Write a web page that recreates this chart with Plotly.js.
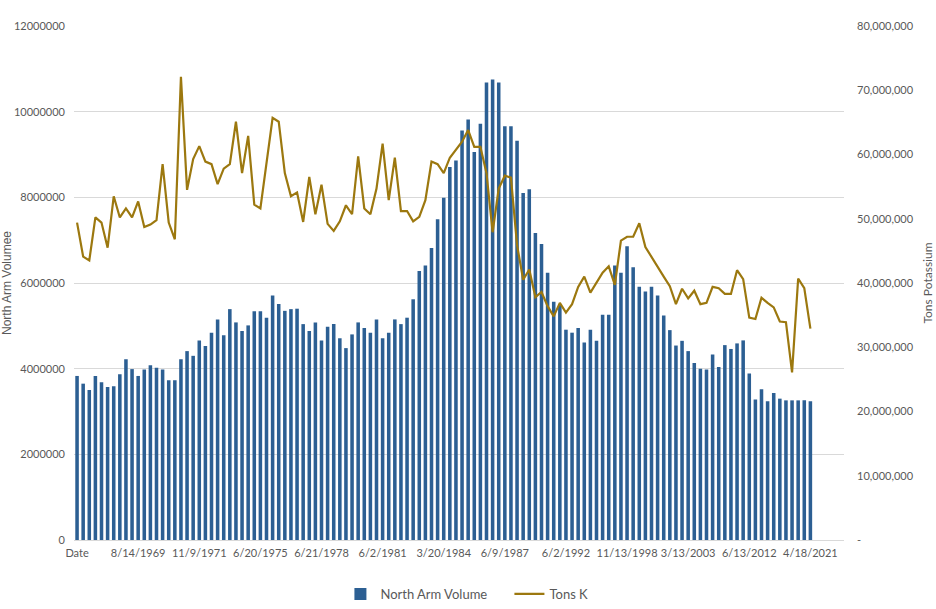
<!DOCTYPE html>
<html>
<head>
<meta charset="utf-8">
<script src="https://cdn.plot.ly/plotly-3.0.1.min.js"></script>
<style>
  html, body { margin: 0; padding: 0; background: #fff; }
  #plot { width: 936px; height: 609px; }
</style>
</head>
<body>
<div id="plot"></div>
<script>
// Category axis labels (every 10th date row is labelled)
var tickLabels = ["Date", "8/14/1969", "11/9/1971", "6/20/1975", "6/21/1978", "6/2/1981",
  "3/20/1984", "6/9/1987", "6/2/1992", "11/13/1998", "3/13/2003", "6/13/2012", "4/18/2021"];

// North Arm Volume (left axis)
var volume = [
  3830000, 3650000, 3500000, 3830000, 3680000, 3570000, 3590000, 3870000, 4220000, 3990000,
  3830000, 3980000, 4080000, 4020000, 3980000, 3730000, 3730000, 4220000, 4410000, 4300000,
  4660000, 4530000, 4840000, 5150000, 4780000, 5390000, 5080000, 4880000, 5010000, 5340000,
  5340000, 5190000, 5710000, 5510000, 5350000, 5390000, 5400000, 5040000, 4880000, 5080000,
  4660000, 4980000, 5040000, 4710000, 4480000, 4800000, 5080000, 4950000, 4840000, 5150000,
  4710000, 4840000, 5150000, 5040000, 5190000, 5620000, 6280000, 6410000, 6820000, 7490000,
  7990000, 8710000, 8860000, 9560000, 9820000, 9060000, 9720000, 10680000, 10750000, 10680000,
  9660000, 9660000, 9320000, 8100000, 8190000, 7170000, 6910000, 6240000, 5560000, 5500000,
  4910000, 4840000, 4950000, 4610000, 4910000, 4650000, 5260000, 5260000, 6410000, 6240000,
  6860000, 6370000, 5910000, 5800000, 5910000, 5710000, 5240000, 4900000, 4540000, 4650000,
  4410000, 4130000, 4000000, 3980000, 4330000, 4040000, 4550000, 4460000, 4590000, 4660000,
  3890000, 3280000, 3520000, 3240000, 3430000, 3300000, 3260000, 3260000, 3260000, 3260000,
  3240000
];

// Tons K (right axis)
var tonsK = [
  49400000, 44100000, 43500000, 50200000, 49400000, 45500000, 53500000, 50200000, 51600000, 50200000,
  52700000, 48700000, 49100000, 49800000, 58500000, 49400000, 46800000, 72100000, 54500000, 59300000,
  61300000, 58900000, 58500000, 55400000, 57800000, 58500000, 65100000, 57100000, 62900000, 52200000,
  51600000, 58600000, 65700000, 65100000, 57100000, 53500000, 54100000, 49500000, 56500000, 50700000,
  55300000, 49200000, 48100000, 49600000, 52100000, 50700000, 59700000, 51600000, 50700000, 54700000,
  61700000, 52900000, 59500000, 51200000, 51200000, 49600000, 50300000, 52900000, 58900000, 58500000,
  57100000, 59500000, 60700000, 62000000, 63800000, 61200000, 61200000, 57100000, 47900000, 54700000,
  56700000, 56400000, 45900000, 40500000, 42100000, 37800000, 38600000, 36400000, 34800000, 36900000,
  35400000, 36700000, 39400000, 41000000, 38500000, 40000000, 41600000, 42600000, 39700000, 46600000,
  47200000, 47200000, 49300000, 45600000, 44000000, 42400000, 41000000, 39500000, 36700000, 39100000,
  37600000, 38800000, 36700000, 36900000, 39400000, 39200000, 38300000, 38300000, 42000000, 40600000,
  34600000, 34400000, 37700000, 36900000, 36200000, 34000000, 33900000, 26100000, 40700000, 39200000,
  32900000
];

var xIdx = volume.map(function (v, i) { return i; });
var tickVals = tickLabels.map(function (t, i) { return i * 10; });

var leftTicks = [0, 2000000, 4000000, 6000000, 8000000, 10000000, 12000000];
var rightTicks = [0, 10000000, 20000000, 30000000, 40000000, 50000000, 60000000, 70000000, 80000000];
var rightText = rightTicks.map(function (v) { return v === 0 ? "-" : v.toLocaleString("en-US"); });

var textColor = "#595959";
var font = "Lato, 'Open Sans', sans-serif";

var trace1 = {
  x: xIdx,
  y: volume,
  name: "North Arm Volume",
  type: "bar",
  marker: { color: "#2c5f93" },
  yaxis: "y"
};

var trace2 = {
  x: xIdx,
  y: tonsK,
  name: "Tons K",
  type: "scatter",
  mode: "lines",
  line: { color: "#9c780f", width: 2.2 },
  yaxis: "y2"
};

var data = [trace1, trace2];

var layout = {
  width: 936,
  height: 609,
  margin: { l: 74, r: 92, t: 26, b: 69 },
  paper_bgcolor: "#ffffff",
  plot_bgcolor: "#ffffff",
  font: { family: font, size: 11, color: textColor },
  bargap: 0.42,
  showlegend: true,
  legend: {
    orientation: "h",
    xref: "paper",
    x: 0.346, xanchor: "left",
    yref: "container",
    y: 0, yanchor: "bottom",
    font: { size: 13, color: textColor },
    traceorder: "normal",
    itemwidth: 30,
    entrywidth: 124,
    entrywidthmode: "pixels",
    tracegroupgap: 0
  },
  xaxis: {
    range: [-0.5, 125.5],
    automargin: false,
    tickmode: "array",
    tickvals: tickVals,
    ticktext: tickLabels,
    tickangle: 0,
    showgrid: false,
    zeroline: false,
    showline: true,
    linecolor: "#d9d9d9",
    ticks: "",
    ticklabelstandoff: 3,
    tickfont: { size: 11, color: textColor }
  },
  yaxis: {
    title: { text: "North Arm Volumee", font: { family: "'Liberation Sans', Arial, sans-serif", size: 12, color: textColor }, standoff: 8 },
    automargin: false,
    range: [0, 12000000],
    tickmode: "array",
    tickvals: leftTicks,
    ticktext: leftTicks.map(String),
    showgrid: true,
    gridcolor: "#d9d9d9",
    zeroline: false,
    ticks: "",
    ticklabelstandoff: 8,
    tickfont: { size: 11, color: textColor }
  },
  yaxis2: {
    title: { text: "Tons Potassium", font: { size: 12, color: textColor }, standoff: 10 },
    automargin: false,
    overlaying: "y",
    side: "right",
    range: [0, 80000000],
    tickmode: "array",
    tickvals: rightTicks,
    ticktext: rightText,
    showgrid: false,
    zeroline: false,
    ticks: "",
    ticklabelstandoff: 12,
    tickfont: { size: 11, color: textColor }
  }
};

Plotly.newPlot("plot", data, layout, { displayModeBar: false, staticPlot: true });
</script>
</body>
</html>
